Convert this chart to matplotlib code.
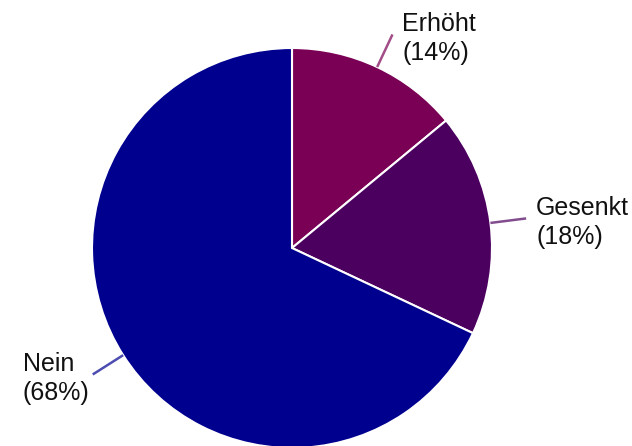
import numpy as np
import matplotlib
matplotlib.use("Agg")
import matplotlib.pyplot as plt
from matplotlib.colors import to_rgb

labels = ["Erhöht", "Gesenkt", "Nein"]
shares = [14, 18, 68]
colors = ["#7a0055", "#4b005f", "#00008f"]

plt.rcParams['font.family'] = ['Liberation Sans', 'DejaVu Sans']

fig = plt.figure(figsize=(6.32, 4.46), dpi=100)
ax = fig.add_axes([0, 0, 1, 1])

cx, cy, r = 292, 198, 200
ax.pie(shares, colors=colors, startangle=90, counterclock=False,
       center=(cx, cy), radius=r, frame=True,
       wedgeprops=dict(edgecolor='white', linewidth=1.5))
ax.set_xlim(0, 632)
ax.set_ylim(0, 446)
ax.set_aspect('equal')
ax.axis('off')

start = 90.0
for lab, s, c in zip(labels, shares, colors):
    mid = np.deg2rad(start - s * 360 / 100 / 2)
    start -= s * 360 / 100
    x0, y0 = cx + r * np.cos(mid), cy + r * np.sin(mid)
    x1, y1 = cx + (r + 36) * np.cos(mid), cy + (r + 36) * np.sin(mid)
    lc = 0.7 * np.array(to_rgb(c)) + 0.3 * np.ones(3)
    ax.plot([x0, x1], [y0, y1], color=lc, lw=1.8, solid_capstyle='butt')
    right = np.cos(mid) >= 0
    tx = x1 + (10 if right else -3)
    ax.text(tx, y1 - 4, f"{lab}\n({s}%)", ha='left' if right else 'right',
            multialignment='left', va='center', fontsize=18,
            linespacing=1.3, color='#111111')

fig.savefig("out.png", dpi=100)
